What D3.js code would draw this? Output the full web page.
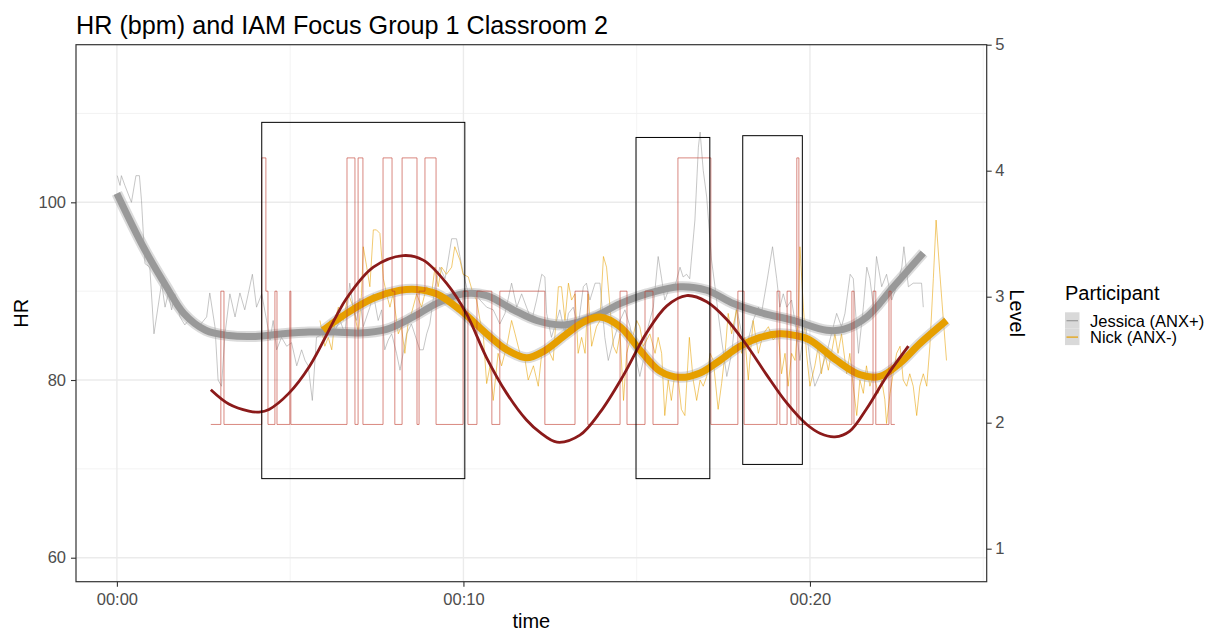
<!DOCTYPE html>
<html>
<head>
<meta charset="utf-8">
<script src="https://cdn.jsdelivr.net/npm/d3@7"></script>
<style>
  html, body { margin: 0; padding: 0; background: #fff; }
  svg { display: block; font-family: "Liberation Sans", Arial, sans-serif; }
</style>
</head>
<body>
<div id="chart"></div>
<script>
const chartTitle = 'HR (bpm) and IAM Focus Group 1 Classroom 2';
const participants = ['Jessica (ANX+)', 'Nick (ANX-)'];

const timeTicks = [0, 10, 20];
const timeMinor = [5, 15, 25];
const hrTicks = [60, 80, 100];
const hrMinor = [70, 90, 110];
const levelTicks = [1, 2, 3, 4, 5];

// [minutes, HR]
const jessicaRaw = [
  [0.01, 103.0], [0.09, 101.9], [0.13, 103.0], [0.23, 101.9], [0.42, 100.0], [0.55, 103.0], [0.65, 103.0],
  [0.71, 100.2], [0.81, 93.1], [0.95, 92.7], [1.07, 85.2], [1.29, 90.9], [1.39, 88.2], [1.48, 89.7],
  [1.58, 87.9], [1.67, 89.7], [1.82, 87.1], [1.96, 86.2], [2.06, 86.7], [2.2, 86.2], [2.4, 86.2],
  [2.59, 87.1], [2.68, 89.8], [2.83, 86.0], [2.92, 80.0], [3.02, 79.3], [3.12, 85.2], [3.26, 89.7],
  [3.41, 87.1], [3.55, 89.8], [3.69, 87.9], [3.79, 89.7], [3.91, 91.9], [4.03, 88.2], [4.18, 89.7],
  [4.32, 86.7], [4.42, 84.5], [4.51, 86.7], [4.61, 83.4], [4.75, 84.8], [4.9, 83.8], [5.04, 84.2],
  [5.19, 81.6], [5.33, 83.4], [5.43, 82.2], [5.52, 81.6], [5.64, 77.7], [5.76, 84.8], [5.95, 85.2],
  [6.15, 86.7], [6.24, 85.2], [6.44, 86.7], [6.58, 85.2], [6.72, 90.9], [6.82, 88.2], [6.92, 86.7],
  [7.01, 89.2], [7.11, 86.0], [7.3, 88.2], [7.4, 89.7], [7.54, 86.7], [7.64, 87.9], [7.73, 83.4],
  [7.83, 84.5], [7.93, 85.2], [8.07, 83.0], [8.17, 81.1], [8.26, 83.0], [8.36, 85.2], [8.5, 86.3],
  [8.65, 84.5], [8.74, 83.4], [8.84, 83.4], [8.94, 85.2], [9.03, 86.3], [9.18, 90.5], [9.32, 92.7],
  [9.47, 91.4], [9.56, 93.5], [9.66, 95.9], [9.8, 95.9], [9.9, 93.9], [9.99, 92.1], [10.14, 89.7],
  [10.28, 90.1], [10.48, 89.0], [10.67, 88.2], [10.86, 87.9], [11.05, 86.3], [11.2, 87.5], [11.39, 90.9],
  [11.54, 88.2], [11.68, 89.7], [11.82, 88.2], [11.97, 86.7], [12.11, 89.0], [12.26, 91.9], [12.35, 91.6],
  [12.4, 87.5], [12.54, 84.8], [12.69, 86.7], [12.78, 87.9], [12.93, 85.2], [13.03, 87.5], [13.17, 88.2],
  [13.31, 86.0], [13.46, 90.5], [13.55, 90.9], [13.65, 89.0], [13.8, 90.9], [13.94, 90.9], [14.08, 84.8],
  [14.18, 82.2], [14.33, 84.5], [14.52, 86.7], [14.66, 87.9], [14.81, 86.0], [14.95, 83.0], [15.09, 80.4],
  [15.19, 82.2], [15.33, 86.0], [15.48, 88.2], [15.62, 93.9], [15.72, 91.4], [15.81, 89.0], [15.96, 90.5],
  [16.1, 90.5], [16.25, 92.7], [16.34, 91.6], [16.44, 91.9], [16.53, 91.4], [16.68, 98.0], [16.78, 106.2],
  [16.83, 107.9], [16.92, 103.6], [17.02, 100.6], [17.16, 93.5], [17.26, 90.5], [17.35, 87.5], [17.45, 84.5],
  [17.6, 80.4], [17.74, 83.0], [17.88, 88.2], [18.03, 85.2], [18.17, 83.8], [18.36, 86.7], [18.51, 88.2],
  [18.6, 87.5], [18.75, 90.9], [18.92, 95.0], [19.04, 91.4], [19.13, 88.2], [19.23, 89.7], [19.33, 88.2],
  [19.47, 89.0], [19.62, 85.2], [19.71, 82.2], [19.86, 86.7], [20.0, 82.2], [20.14, 79.3], [20.29, 80.7],
  [20.48, 83.0], [20.62, 85.2], [20.77, 87.5], [20.91, 86.0], [21.01, 87.5], [21.16, 91.9], [21.25, 91.4],
  [21.4, 83.0], [21.54, 88.2], [21.64, 92.7], [21.73, 91.4], [21.83, 88.2], [21.92, 93.9], [22.07, 90.5],
  [22.21, 91.9], [22.36, 89.0], [22.5, 90.5], [22.65, 92.7], [22.71, 95.0], [22.84, 90.5], [22.98, 90.9],
  [23.08, 90.9], [23.22, 90.9], [23.27, 88.2]
];

const nickRaw = [
  [5.86, 86.7], [6.0, 83.8], [6.1, 84.8], [6.2, 83.4], [6.29, 86.7], [6.39, 88.2], [6.53, 86.7],
  [6.68, 89.7], [6.82, 88.2], [6.97, 85.2], [7.06, 89.7], [7.11, 95.0], [7.21, 92.7], [7.3, 90.5],
  [7.4, 96.9], [7.49, 96.9], [7.59, 96.5], [7.69, 91.4], [7.78, 89.7], [7.88, 88.2], [7.97, 89.7],
  [8.12, 85.2], [8.21, 86.0], [8.31, 83.0], [8.41, 86.7], [8.5, 87.5], [8.65, 89.7], [8.79, 88.2],
  [8.94, 90.5], [9.08, 89.7], [9.18, 92.7], [9.27, 90.5], [9.37, 92.7], [9.51, 91.9], [9.66, 92.7],
  [9.75, 95.0], [9.9, 93.5], [9.99, 91.9], [10.14, 91.6], [10.28, 89.7], [10.38, 89.0], [10.48, 86.7],
  [10.57, 85.2], [10.67, 79.6], [10.77, 81.6], [10.86, 77.7], [11.0, 83.0], [11.1, 81.6], [11.25, 83.8],
  [11.39, 86.7], [11.49, 85.2], [11.63, 83.0], [11.78, 82.2], [11.87, 80.0], [12.02, 81.6], [12.16, 79.3],
  [12.26, 83.0], [12.4, 83.8], [12.59, 82.2], [12.74, 90.5], [12.83, 90.5], [12.93, 86.7], [13.03, 90.9],
  [13.12, 89.0], [13.22, 89.7], [13.31, 83.0], [13.41, 84.8], [13.51, 83.0], [13.6, 89.7], [13.7, 83.8],
  [13.84, 86.0], [13.94, 86.7], [14.04, 93.9], [14.13, 92.7], [14.23, 88.2], [14.33, 83.8], [14.42, 83.0],
  [14.52, 85.2], [14.62, 77.7], [14.71, 83.0], [14.81, 84.5], [14.91, 85.2], [15.0, 86.7], [15.09, 86.0],
  [15.19, 83.8], [15.29, 84.5], [15.38, 85.2], [15.53, 83.0], [15.62, 84.8], [15.72, 83.0], [15.81, 76.0],
  [15.91, 80.0], [16.0, 77.7], [16.1, 80.7], [16.2, 80.0], [16.29, 76.7], [16.39, 76.0], [16.52, 84.8],
  [16.63, 80.0], [16.73, 77.7], [16.83, 80.0], [16.92, 79.3], [17.02, 80.4], [17.12, 83.0], [17.21, 82.2],
  [17.35, 76.7], [17.45, 79.6], [17.55, 83.0], [17.64, 87.5], [17.74, 85.2], [17.88, 87.9], [18.03, 83.0],
  [18.12, 84.8], [18.22, 80.0], [18.36, 86.7], [18.51, 83.0], [18.65, 85.2], [18.8, 86.0], [18.94, 84.5],
  [19.09, 85.2], [19.18, 80.7], [19.28, 83.0], [19.37, 79.3], [19.47, 83.0], [19.57, 82.2], [19.66, 86.7],
  [19.71, 95.0], [19.81, 88.2], [19.9, 83.0], [20.0, 79.3], [20.14, 81.6], [20.24, 83.8], [20.33, 80.7],
  [20.43, 83.0], [20.53, 81.1], [20.62, 83.0], [20.72, 85.2], [20.81, 83.0], [20.91, 85.2], [21.06, 80.7],
  [21.15, 83.0], [21.25, 79.3], [21.35, 76.0], [21.44, 80.0], [21.54, 78.5], [21.63, 81.6], [21.73, 79.3],
  [21.83, 80.7], [21.97, 78.5], [22.07, 80.0], [22.16, 77.8], [22.21, 75.1], [22.31, 78.5], [22.4, 80.7],
  [22.5, 83.0], [22.6, 83.8], [22.69, 80.0], [22.79, 79.3], [22.88, 80.7], [22.98, 79.3], [23.08, 76.0],
  [23.17, 79.3], [23.27, 80.7], [23.37, 79.3], [23.46, 83.8], [23.56, 91.4], [23.64, 98.0], [23.75, 91.9],
  [23.85, 86.7], [23.94, 82.2]
];

const jessicaSmooth = [
  [0.0, 101.0], [0.76, 95.0], [1.43, 90.5], [1.93, 87.5], [2.56, 85.6], [3.23, 85.0], [4.0, 84.9],
  [4.78, 85.2], [5.55, 85.4], [6.3, 85.4], [7.0, 85.3], [7.78, 85.7], [8.55, 87.1], [9.22, 88.6],
  [10.0, 89.7], [10.67, 89.5], [11.44, 87.9], [12.11, 86.7], [12.9, 86.2], [13.75, 87.1], [14.52, 88.6],
  [15.29, 89.7], [16.25, 90.5], [17.02, 90.1], [17.79, 88.6], [18.56, 87.6], [19.52, 86.7], [20.48, 85.6],
  [20.96, 85.7], [21.64, 87.1], [22.41, 90.5], [23.27, 94.3]
];

const nickSmooth = [
  [5.95, 85.6], [6.63, 87.5], [7.4, 89.2], [8.17, 90.1], [8.65, 90.2], [9.22, 89.7], [9.9, 87.9],
  [10.67, 85.2], [11.25, 83.4], [11.82, 82.5], [12.3, 83.2], [12.98, 85.2], [13.5, 86.6], [13.94, 87.1],
  [14.52, 86.0], [15.09, 83.4], [15.67, 81.0], [16.25, 80.3], [16.83, 80.8], [17.4, 82.2], [17.98, 83.8],
  [18.56, 84.8], [19.13, 85.2], [19.6, 85.0], [20.0, 84.5], [20.77, 82.2], [21.44, 80.6], [22.02, 80.4],
  [22.6, 81.9], [23.17, 84.1], [23.94, 86.7]
];

// [minutes, IAM level]
const levelSteps = [
  [2.71, 2], [3.0, 3], [3.09, 2], [4.18, 4], [4.3, 3], [4.36, 2], [4.56, 3], [4.62, 2], [4.99, 3],
  [5.02, 2], [6.64, 4], [6.87, 2], [6.96, 4], [7.1, 2], [7.68, 4], [7.94, 3], [8.02, 2], [8.23, 4],
  [8.66, 2], [8.72, 3], [8.89, 4], [9.21, 2], [9.99, 3], [10.13, 2], [10.39, 3], [10.82, 2], [11.05, 3],
  [12.35, 2], [13.22, 3], [13.59, 2], [14.52, 3], [14.72, 2], [15.24, 3], [15.47, 2], [16.19, 4],
  [17.14, 2], [17.92, 3], [18.1, 2], [19.05, 3], [19.13, 2], [19.34, 3], [19.45, 2], [19.62, 4],
  [19.68, 2], [21.21, 3], [21.27, 2], [21.82, 3], [21.9, 2], [22.28, 3], [22.34, 2], [22.45, 2]
];

const levelSmooth = [
  [2.71, 2.26], [3.23, 2.153], [3.81, 2.1], [4.1, 2.093], [4.39, 2.113], [4.96, 2.233], [5.55, 2.433],
  [6.32, 2.807], [6.63, 2.947], [7.4, 3.18], [8.26, 3.267], [8.84, 3.233], [9.51, 3.06], [10.09, 2.83],
  [10.67, 2.5], [11.25, 2.233], [11.82, 2.033], [12.21, 1.94], [12.7, 1.867], [13.36, 1.92], [13.94, 2.09],
  [14.62, 2.37], [15.29, 2.69], [15.87, 2.89], [16.44, 2.967], [17.02, 2.921], [17.6, 2.788], [18.17, 2.596],
  [18.75, 2.372], [19.33, 2.161], [19.9, 2.001], [20.3, 1.932], [20.72, 1.907], [21.15, 1.95], [21.64, 2.12],
  [22.21, 2.36], [22.84, 2.587]
];

// [start, end, low HR, high HR]
const focusBoxes = [
  [4.18, 10.04, 68.9, 109.0],
  [14.98, 17.11, 68.9, 107.3],
  [18.06, 19.78, 70.5, 107.5]
];

const width = 1215;
const height = 635;
const panel = { left: 76, right: 986.7, top: 44.7, bottom: 581.7 };
const colors = { 'Jessica (ANX+)': '#999999', 'Nick (ANX-)': '#E69F00' };
const tickColor = '#4d4d4d';

const x = d3.scaleLinear().domain([-1.18, 25.1]).range([panel.left, panel.right]);
const y = d3.scaleLinear().domain([57.3, 117.74]).range([panel.bottom, panel.top]);
const yLevel = d3.scaleLinear().domain([0.738, 5]).range([panel.bottom, panel.top]);
const levelToHR = d3.scaleLinear().domain([2, 4]).range([75, 105]);

const svg = d3.select('#chart')
  .append('svg')
  .attr('width', width)
  .attr('height', height);

svg.append('rect').attr('width', width).attr('height', height).attr('fill', '#fff');

svg.append('defs').append('clipPath').attr('id', 'panel-clip')
  .append('rect')
  .attr('x', panel.left)
  .attr('y', panel.top)
  .attr('width', panel.right - panel.left)
  .attr('height', panel.bottom - panel.top);

// grid
const grid = svg.append('g');
grid.selectAll('.minor-y').data(hrMinor).join('line')
  .attr('x1', panel.left).attr('x2', panel.right)
  .attr('y1', (d) => y(d)).attr('y2', (d) => y(d))
  .attr('stroke', '#f0f0f0').attr('stroke-width', 0.8);
grid.selectAll('.minor-x').data(timeMinor).join('line')
  .attr('x1', (d) => x(d)).attr('x2', (d) => x(d))
  .attr('y1', panel.top).attr('y2', panel.bottom)
  .attr('stroke', '#f0f0f0').attr('stroke-width', 0.8);
grid.selectAll('.major-y').data(hrTicks).join('line')
  .attr('x1', panel.left).attr('x2', panel.right)
  .attr('y1', (d) => y(d)).attr('y2', (d) => y(d))
  .attr('stroke', '#ebebeb').attr('stroke-width', 1.4);
grid.selectAll('.major-x').data(timeTicks).join('line')
  .attr('x1', (d) => x(d)).attr('x2', (d) => x(d))
  .attr('y1', panel.top).attr('y2', panel.bottom)
  .attr('stroke', '#ebebeb').attr('stroke-width', 1.4);

const plot = svg.append('g').attr('clip-path', 'url(#panel-clip)');

const hrLine = d3.line().x((d) => x(d[0])).y((d) => y(d[1]));
const smoothLine = d3.line().x((d) => x(d[0])).y((d) => y(d[1])).curve(d3.curveCatmullRom);
const stepLine = d3.line().x((d) => x(d[0])).y((d) => y(levelToHR(d[1]))).curve(d3.curveStepAfter);
const levelSmoothLine = d3.line().x((d) => x(d[0])).y((d) => y(levelToHR(d[1]))).curve(d3.curveCatmullRom);

const rawSeries = [jessicaRaw, nickRaw];
const smoothSeries = [jessicaSmooth, nickSmooth];

rawSeries.forEach((series, i) => {
  plot.append('path')
    .attr('d', hrLine(series))
    .attr('fill', 'none')
    .attr('stroke', colors[participants[i]])
    .attr('stroke-opacity', 0.7)
    .attr('stroke-width', 0.8);
});

smoothSeries.forEach((series, i) => {
  plot.append('path')
    .attr('d', smoothLine(series))
    .attr('fill', 'none')
    .attr('stroke', '#999999')
    .attr('stroke-opacity', 0.35)
    .attr('stroke-width', 11);
  plot.append('path')
    .attr('d', smoothLine(series))
    .attr('fill', 'none')
    .attr('stroke', colors[participants[i]])
    .attr('stroke-width', 7);
});

plot.append('path')
  .attr('d', stepLine(levelSteps))
  .attr('fill', 'none')
  .attr('stroke', '#c0392b')
  .attr('stroke-opacity', 0.6)
  .attr('stroke-width', 1);

plot.append('path')
  .attr('d', levelSmoothLine(levelSmooth))
  .attr('fill', 'none')
  .attr('stroke', '#8b1a1a')
  .attr('stroke-width', 2.8);

plot.selectAll('.focus').data(focusBoxes).join('rect')
  .attr('x', (d) => x(d[0]))
  .attr('y', (d) => y(d[3]))
  .attr('width', (d) => x(d[1]) - x(d[0]))
  .attr('height', (d) => y(d[2]) - y(d[3]))
  .attr('fill', 'none')
  .attr('stroke', '#000')
  .attr('stroke-width', 1);

svg.append('rect')
  .attr('x', panel.left)
  .attr('y', panel.top)
  .attr('width', panel.right - panel.left)
  .attr('height', panel.bottom - panel.top)
  .attr('fill', 'none')
  .attr('stroke', '#333333')
  .attr('stroke-width', 1.2);

function styleAxis(g) {
  g.select('.domain').remove();
  g.selectAll('.tick line').attr('stroke', '#333333').attr('stroke-width', 1.1);
  g.selectAll('.tick text')
    .attr('fill', tickColor)
    .attr('font-size', 16.5)
    .attr('font-family', '"Liberation Sans", Arial, sans-serif');
}

svg.append('g')
  .attr('transform', `translate(0,${panel.bottom})`)
  .call(d3.axisBottom(x).tickValues(timeTicks).tickSize(5).tickPadding(7)
    .tickFormat((d) => `00:${d3.format('02')(d)}`))
  .call(styleAxis);

svg.append('g')
  .attr('transform', `translate(${panel.left},0)`)
  .call(d3.axisLeft(y).tickValues(hrTicks).tickSize(5).tickPadding(5))
  .call(styleAxis);

svg.append('g')
  .attr('transform', `translate(${panel.right},0)`)
  .call(d3.axisRight(yLevel).tickValues(levelTicks).tickSize(5).tickPadding(3.5)
    .tickFormat(d3.format('d')))
  .call(styleAxis);

svg.append('text')
  .attr('x', panel.left)
  .attr('y', 34)
  .attr('font-size', 25.2)
  .attr('fill', '#000')
  .text(chartTitle);

svg.append('text')
  .attr('x', (panel.left + panel.right) / 2)
  .attr('y', 628)
  .attr('text-anchor', 'middle')
  .attr('font-size', 20)
  .text('time');

svg.append('text')
  .attr('transform', `translate(28,${(panel.top + panel.bottom) / 2}) rotate(-90)`)
  .attr('text-anchor', 'middle')
  .attr('font-size', 20)
  .text('HR');

svg.append('text')
  .attr('transform', `translate(1010,${(panel.top + panel.bottom) / 2}) rotate(90)`)
  .attr('text-anchor', 'middle')
  .attr('font-size', 20)
  .text('Level');

// legend
const legend = svg.append('g').attr('transform', 'translate(1065,300)');
legend.append('text')
  .attr('x', 0)
  .attr('y', 0)
  .attr('font-size', 20)
  .text('Participant');

const keys = legend.selectAll('.key').data(participants).join('g')
  .attr('transform', (d, i) => `translate(0,${12.3 + i * 16.4})`);
keys.append('rect')
  .attr('width', 14.5)
  .attr('height', 16.4)
  .attr('fill', '#d9d9d9');
keys.append('line')
  .attr('x1', 1.5).attr('x2', 13)
  .attr('y1', 8.4).attr('y2', 8.4)
  .attr('stroke', (d) => colors[d])
  .attr('stroke-width', 1.2);
keys.append('text')
  .attr('x', 25)
  .attr('y', 8.4)
  .attr('dy', '0.36em')
  .attr('font-size', 16.5)
  .text((d) => d);
</script>
</body>
</html>
